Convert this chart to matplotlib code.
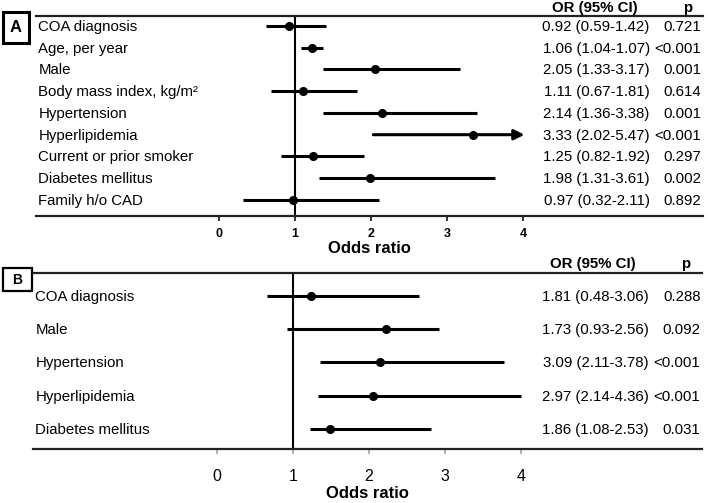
import matplotlib
matplotlib.use("Agg")
import matplotlib.pyplot as plt
from matplotlib.patches import Rectangle
from matplotlib.transforms import offset_copy

plt.rcParams['font.family'] = ['Liberation Sans', 'DejaVu Sans']

# Panel A data
a_labels = ["COA diagnosis", "Age, per year", "Male", "Body mass index, kg/m²",
            "Hypertension", "Hyperlipidemia", "Current or prior smoker",
            "Diabetes mellitus", "Family h/o CAD"]
a_or = [0.92, 1.22, 2.05, 1.10, 2.15, 3.34, 1.24, 1.98, 0.97]
a_lo = [0.62, 1.08, 1.37, 0.68, 1.37, 2.03, 0.82, 1.32, 0.31]
a_hi = [1.41, 1.37, 3.17, 1.81, 3.40, 4.02, 1.91, 3.63, 2.11]
a_arrow = [False, False, False, False, False, True, False, False, False]
a_text = ["0.92 (0.59-1.42)", "1.06 (1.04-1.07)", "2.05 (1.33-3.17)", "1.11 (0.67-1.81)",
          "2.14 (1.36-3.38)", "3.33 (2.02-5.47)", "1.25 (0.82-1.92)", "1.98 (1.31-3.61)",
          "0.97 (0.32-2.11)"]
a_p = ["0.721", "<0.001", "0.001", "0.614", "0.001", "<0.001", "0.297", "0.002", "0.892"]

# Panel B data
b_labels = ["COA diagnosis", "Male", "Hypertension", "Hyperlipidemia", "Diabetes mellitus"]
b_or = [1.24, 2.22, 2.14, 2.05, 1.49]
b_lo = [0.66, 0.92, 1.36, 1.33, 1.23]
b_hi = [2.66, 2.92, 3.77, 4.00, 2.82]
b_arrow = [False] * 5
b_text = ["1.81 (0.48-3.06)", "1.73 (0.93-2.56)", "3.09 (2.11-3.78)", "2.97 (2.14-4.36)",
          "1.86 (1.08-2.53)"]
b_p = ["0.288", "0.092", "<0.001", "<0.001", "0.031"]

ticks = [0, 1, 2, 3, 4]

W, H = 709, 503
fig = plt.figure(figsize=(W / 100, H / 100), dpi=100)


def px_axes(left, top, right, bottom):
    return fig.add_axes([left / W, (H - bottom) / H, (right - left) / W, (bottom - top) / H])


def panel_box(x0, y0, x1, y1, letter, fs, lw):
    fig.add_artist(Rectangle((x0 / W, (H - y1) / H), (x1 - x0) / W, (y1 - y0) / H,
                             transform=fig.transFigure, fill=False, ec='black', lw=lw))
    fig.text((x0 + x1) / 2 / W, (H - (y0 + y1) / 2) / H, letter, fontsize=fs,
             fontweight='bold', ha='center', va='center')


def draw_panel(ax, labels, ors, los, his, arrows, txt, ps, xlim, ylim, label_x,
               or_x, p_x, head_y, fs, tick_fs, tick_bold, tick_color, tick_pad, lab_pad):
    n = len(labels)
    ax.set_xlim(*xlim)
    ax.set_ylim(*ylim)
    for s in ['left', 'right']:
        ax.spines[s].set_visible(False)
    for s in ['top', 'bottom']:
        ax.spines[s].set_linewidth(1.6)
        ax.spines[s].set_color('#222222')
    ax.set_yticks([])
    ax.set_xticks(ticks)
    ax.set_xticklabels([str(t) for t in ticks], fontsize=tick_fs,
                       fontweight='bold' if tick_bold else 'normal')
    ax.tick_params(axis='x', length=3.5, width=1.3, color=tick_color, pad=tick_pad)
    ax.set_xlabel("Odds ratio", fontsize=12, fontweight='bold', labelpad=lab_pad)
    ax.axvline(1, color='black', lw=1.5, zorder=1)
    tr = offset_copy(ax.transData, fig=fig, x=0, y=-5, units='dots')
    for i in range(n):
        if arrows[i]:
            ax.annotate('', xy=(his[i], i), xytext=(los[i], i),
                        arrowprops=dict(arrowstyle='-|>,head_length=0.5,head_width=0.25',
                                        lw=2.2, color='black',
                                        mutation_scale=12, shrinkA=0, shrinkB=0))
        else:
            ax.plot([los[i], his[i]], [i, i], color='black', lw=2.2,
                    solid_capstyle='butt', zorder=2)
        ax.plot([ors[i]], [i], 'o', color='black', ms=5.5, zorder=3)
        ax.text(label_x, i, labels[i], fontsize=fs, va='baseline', ha='left', transform=tr)
        ax.text(or_x, i, txt[i], fontsize=fs, va='baseline', ha='right', transform=tr)
        ax.text(p_x, i, ps[i], fontsize=fs, va='baseline', ha='right', transform=tr)
    ax.text(4.94, head_y, "OR (95% CI)", fontsize=10.8,
            fontweight='bold', ha='center', va='bottom', clip_on=False)
    ax.text(6.17, head_y, "p", fontsize=10.8, fontweight='bold',
            ha='center', va='bottom', clip_on=False)


axA = px_axes(36, 16, 703, 216)
draw_panel(axA, a_labels, a_or, a_lo, a_hi, a_arrow, a_text, a_p,
           xlim=(-2.41, 6.37), ylim=(8.74, -0.46), label_x=-2.38,
           or_x=5.67, p_x=6.35, head_y=-0.5, fs=10.8, tick_fs=9, tick_bold=True,
           tick_color='#222222', tick_pad=5, lab_pad=1)
panel_box(3, 12, 29, 43, "A", 12, 2.2)

axB = px_axes(33, 273, 702, 449)
draw_panel(axB, b_labels, b_or, b_lo, b_hi, b_arrow, b_text, b_p,
           xlim=(-2.42, 6.38), ylim=(4.6, -0.69), label_x=-2.39,
           or_x=5.68, p_x=6.36, head_y=-0.74, fs=10.8, tick_fs=11.5, tick_bold=False,
           tick_color='#aaaaaa', tick_pad=11, lab_pad=1)
panel_box(3, 268, 32, 291, "B", 10, 1.6)

fig.savefig("out.png", dpi=100)
